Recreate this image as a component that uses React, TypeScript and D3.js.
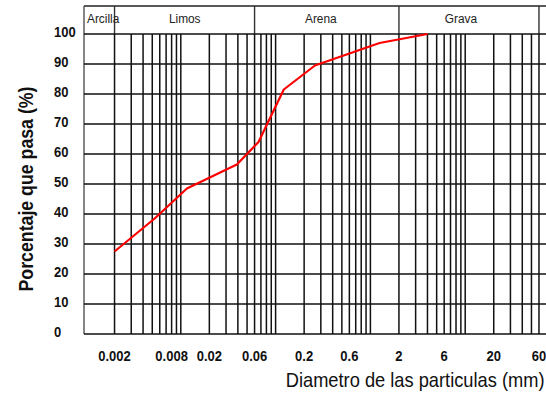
import React from 'react';
import * as d3 from 'd3';

// Grain-size distribution (curva granulométrica)
const diameters = [0.002, 0.0053, 0.0116, 0.039, 0.066, 0.122, 0.26, 1.25, 4.0]; // mm
const passing = [27.5, 38.5, 48.5, 56.5, 64, 81.5, 89.5, 97, 100]; // %

const yTicks = [0, 10, 20, 30, 40, 50, 60, 70, 80, 90, 100];
const xTickValues = [0.002, 0.008, 0.02, 0.06, 0.2, 0.6, 2, 6, 20, 60];
const xTickLabels = ['0.002', '0.008', '0.02', '0.06', '0.2', '0.6', '2', '6', '20', '60'];

// Soil classes and their size limits (mm)
const soilClasses = ['Arcilla', 'Limos', 'Arena', 'Grava'];
const classLimits = [0.002, 0.06, 2, 60];
const classLabelAt = [0.0011, 0.011, 0.3, 9];

const W = 546;
const H = 398;
const frameLeft = 84;
const frameTop = 6;
const gridMin = 0.002;
const gridMax = 60;

// Helvetica-like face, squeezed horizontally to a condensed width
const sans = "'Liberation Sans', Arial, Helvetica, sans-serif";

export default function App() {
  const x = d3.scaleLog().domain([0.001, 100]).range([86, 560]);
  const y = d3.scaleLinear().domain([0, 100]).range([334, 34]);

  const gridX = x.ticks().filter((v) => v >= gridMin * 0.999 && v <= gridMax * 1.001);

  const line = d3
    .line<number>()
    .x((_, i) => x(diameters[i]))
    .y((d) => y(d));

  const headerBottom = y(100);
  const plotBottom = y(0);

  return (
    <div style={{ position: 'absolute', left: 0, top: 0 }}>
      <svg width={W} height={H} style={{ display: 'block', background: '#fff' }}>
        {/* header band */}
        <line x1={frameLeft} x2={W} y1={frameTop} y2={frameTop} stroke="#222" strokeWidth={1.5} />
        <line x1={frameLeft} x2={frameLeft} y1={frameTop} y2={plotBottom} stroke="#444" strokeWidth={1.3} />
        {classLimits.map((v) => (
          <line key={'cl' + v} x1={x(v)} x2={x(v)} y1={frameTop} y2={headerBottom} stroke="#333" strokeWidth={1.4} />
        ))}
        {soilClasses.map((name, i) => (
          <text
            key={name}
            transform={`translate(${i === 0 ? frameLeft + 3 : x(classLabelAt[i])},23) scale(0.88,1)`}
            textAnchor={i === 0 ? 'start' : 'middle'}
            fontFamily={sans}
            fontSize={13.5}
            fill="#222"
          >
            {name}
          </text>
        ))}

        {/* grid */}
        {gridX.map((v) => (
          <line key={'gx' + v} x1={x(v)} x2={x(v)} y1={headerBottom} y2={plotBottom} stroke="#111" strokeWidth={1.5} />
        ))}
        {yTicks.map((v) => (
          <line key={'gy' + v} x1={frameLeft} x2={W} y1={y(v)} y2={y(v)} stroke="#111" strokeWidth={1.6} />
        ))}

        {/* y tick labels */}
        {yTicks.map((v) => (
          <text
            key={'ty' + v}
            transform={`translate(54,${y(v) + 3}) scale(0.93,1)`}
            fontFamily={sans}
            fontWeight="bold"
            fontSize={14}
            fill="#111"
          >
            {v}
          </text>
        ))}

        {/* x tick labels */}
        {xTickValues.map((v, i) => (
          <text
            key={'tx' + v}
            transform={`translate(${x(v)},360.7) scale(0.93,1)`}
            textAnchor="middle"
            fontFamily={sans}
            fontWeight="bold"
            fontSize={14}
            fill="#111"
          >
            {xTickLabels[i]}
          </text>
        ))}

        {/* curve */}
        <path d={line(passing) || ''} fill="none" stroke="#ff0000" strokeWidth={2.2} strokeLinejoin="round" />

        {/* axis titles */}
        <text
          transform="translate(544.5,386.5) scale(0.87,1)"
          textAnchor="end"
          fontFamily={sans}
          fontSize={21}
          fill="#111"
        >
          Diametro de las particulas (mm)
        </text>
        <text
          transform="translate(32.5,189) rotate(-90) scale(0.91,1)"
          textAnchor="middle"
          fontFamily={sans}
          fontWeight="bold"
          fontSize={19.5}
          fill="#111"
        >
          Porcentaje que pasa (%)
        </text>
      </svg>
    </div>
  );
}
